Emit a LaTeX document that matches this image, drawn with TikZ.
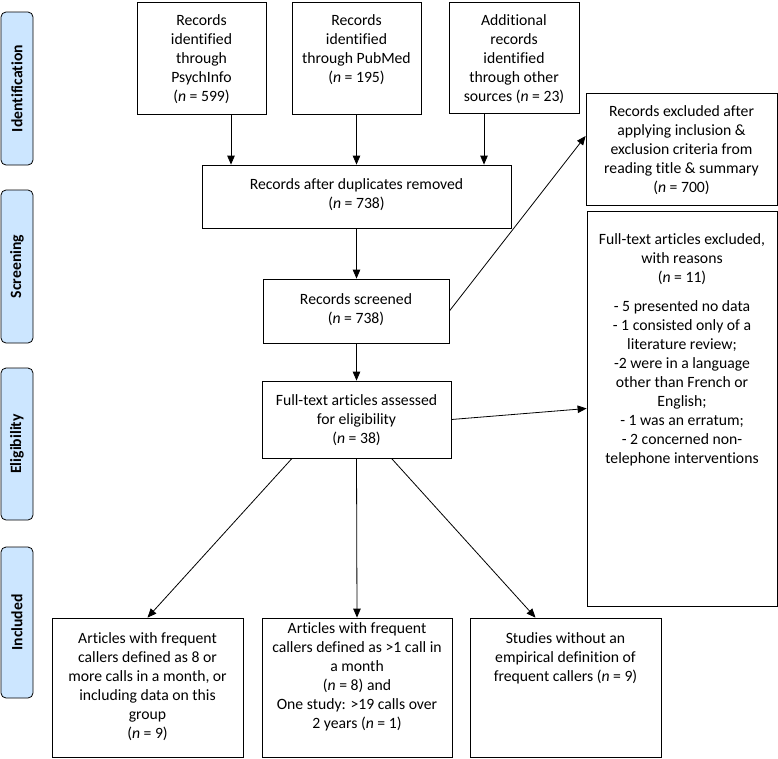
\documentclass[tikz,border=0pt]{standalone}
\usepackage{fontspec}
\setmainfont{Carlito}[Ligatures=NoCommon]
\usetikzlibrary{positioning, arrows.meta}
\definecolor{phasefill}{HTML}{CCE6FF}
\newcommand{\nval}{\textit{n}}

\begin{document}
\begin{tikzpicture}[x=1pt, y=-1pt,
  box/.style={draw, line width=0.8pt, inner sep=0pt},
  txt/.style={align=center, inner sep=0pt, font=\fontsize{15.7}{19}\selectfont},
  phase/.style={draw, line width=0.8pt, fill=phasefill, rounded corners=5pt, rotate=90,
    minimum height=32pt, inner sep=0pt, font=\fontsize{15.7}{19}\selectfont\bfseries},
  arr/.style={line width=0.8pt, -{Triangle[length=9pt, width=7.5pt]}}]
\useasboundingbox (0,0) rectangle (778,758);

% phases on the left
\node[phase, minimum width=153pt] (ident) at (17,88.5) {Identification};
\node[phase, minimum width=153pt] (screen) at (17,266.5) {Screening};
\node[phase, minimum width=152pt] (elig) at (17,444) {Eligibility};
\node[phase, minimum width=151pt] (incl) at (17,622.5) {Included};

% boxes
\node[box, minimum width=129pt, minimum height=112pt] (psych) at (201.5,58) {};
\node[box, minimum width=129pt, minimum height=112pt] (pubmed) at (356.5,58) {};
\node[box, minimum width=130pt, minimum height=111pt] (other) at (514,57.5) {};
\node[box, minimum width=309pt, minimum height=63pt] (dup) at (356.5,196.5) {};
\node[box, minimum width=186pt, minimum height=64pt] (screened) at (356,311) {};
\node[box, minimum width=189pt, minimum height=77pt] (fulltext) at (356.5,419.5) {};
\node[box, minimum width=191pt, minimum height=112pt] (excl) at (681.5,149) {};
\node[box, minimum width=190pt, minimum height=395pt] (ftexcl) at (682,408.5) {};
\node[box, minimum width=191pt, minimum height=139pt] (inclA) at (147.5,687.5) {};
\node[box, minimum width=190pt, minimum height=139pt] (inclB) at (357,687.5) {};
\node[box, minimum width=191pt, minimum height=139pt] (inclC) at (565.5,687.5) {};

% texts
\node[txt, below=13pt of psych.north] (psychT) {Records\\identified\\through\\PsychInfo\\(\nval{} = 599)};
\node[txt, below=13pt of pubmed.north] (pubmedT) {Records\\identified\\through PubMed\\(\nval{} = 195)};
\node[txt, below=13pt of other.north] (otherT) {Additional\\records\\identified\\through other\\sources (\nval{} = 23)};
\node[txt, below=14pt of dup.north] (dupT) {Records after duplicates removed\\(\nval{} = 738)};
\node[txt, below=15pt of screened.north] (screenedT) {Records screened\\(\nval{} = 738)};
\node[txt, below=14pt of fulltext.north] (fulltextT) {Full-text articles assessed\\for eligibility\\(\nval{} = 38)};
\node[txt, below=13pt of excl.north] (exclT) {Records excluded after\\applying inclusion \&\\exclusion criteria from\\reading title \& summary\\(\nval{} = 700)};
\node[txt, below=23pt of ftexcl.north] (ftexclT) {Full-text articles excluded,\\with reasons\\(\nval{} = 11)\\[10pt]
  - 5 presented no data\\- 1 consisted only of a\\literature review;\\-2 were in a language\\other than French or\\English;\\- 1 was an erratum;\\- 2 concerned non-\\telephone interventions};
\node[txt, below=15pt of inclA.north] (inclAT) {Articles with frequent\\callers defined as 8 or\\more calls in a month, or\\including data on this\\group\\(\nval{} = 9)};
\node[txt, below=5pt of inclB.north] (inclBT) {Articles with frequent\\callers defined as >1 call in\\a month\\(\nval{} = 8) and\\One study: >19 calls over\\2 years (\nval{} = 1)};
\node[txt, below=15pt of inclC.north] (inclCT) {Studies without an\\empirical definition of\\frequent callers (\nval{} = 9)};

% arrows
\coordinate (a1) at ([xshift=29.5pt]psych.south);
\coordinate (a3) at ([xshift=-30pt]other.south);
\draw[arr] (a1) -- (a1 |- dup.north);
\draw[arr] (pubmed.south) -- (pubmed.south |- dup.north);
\draw[arr] (a3) -- (a3 |- dup.north);
\draw[arr] (dup.south) -- (dup.south |- screened.north);
\draw[arr] (screened.east) -- ([yshift=13pt]excl.west);
\draw[arr] (screened.south) -- (screened.south -| fulltext.north) -- (fulltext.north);
\draw[arr] (fulltext.east) -- (ftexcl.west);
\draw[arr] ([xshift=-64.5pt]fulltext.south) -- (inclA.north);
\draw[arr] (fulltext.south) -- (inclB.north);
\draw[arr] ([xshift=35pt]fulltext.south) -- ([xshift=-30pt]inclC.north);
\end{tikzpicture}
\end{document}
